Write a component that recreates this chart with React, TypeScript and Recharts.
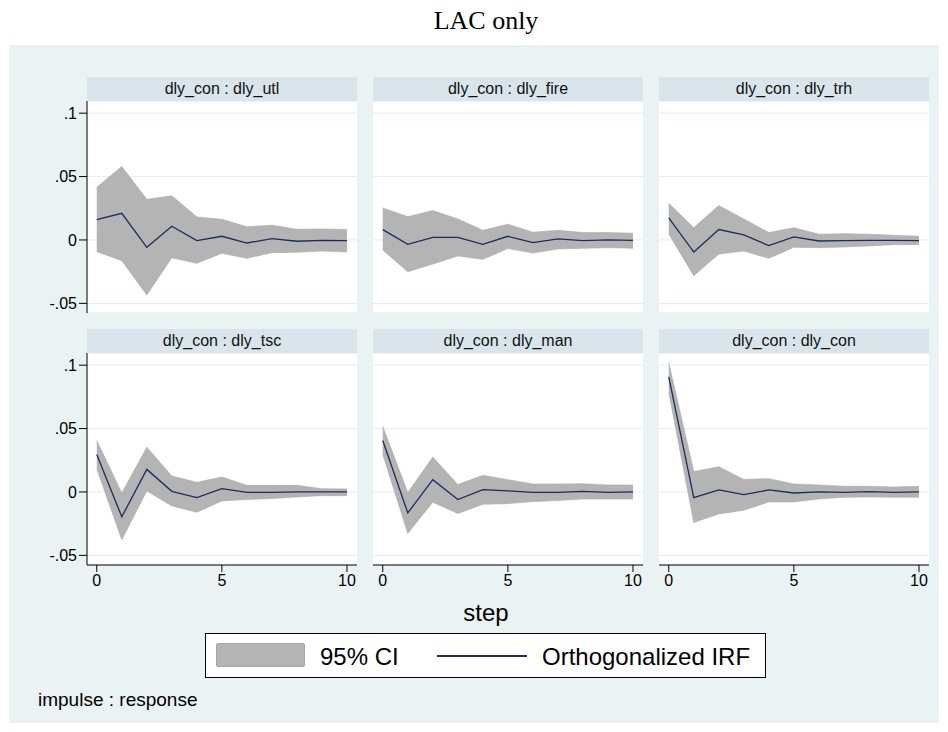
import React from "react";
import { ComposedChart, Area, Line, XAxis, YAxis, CartesianGrid } from "recharts";

// ---------- data ----------
const steps = [0, 1, 2, 3, 4, 5, 6, 7, 8, 9, 10];

const utlIrf = [0.016, 0.021, -0.0058, 0.0108, -0.0005, 0.0029, -0.0024, 0.001, -0.001, -0.0003, -0.0005];
const utlLo = [-0.0092, -0.0163, -0.0434, -0.014, -0.0184, -0.0105, -0.0145, -0.01, -0.0097, -0.0087, -0.0095];
const utlHi = [0.0416, 0.0579, 0.0321, 0.0348, 0.0182, 0.0163, 0.0105, 0.0116, 0.0084, 0.0087, 0.0082];

const fireIrf = [0.0082, -0.0034, 0.0021, 0.0021, -0.0034, 0.0029, -0.0021, 0.0008, -0.0005, 0.0, -0.0003];
const fireLo = [-0.0079, -0.025, -0.019, -0.0126, -0.0153, -0.0068, -0.0103, -0.0071, -0.0066, -0.0061, -0.0066];
const fireHi = [0.0253, 0.0184, 0.0232, 0.0166, 0.0076, 0.0124, 0.0061, 0.0076, 0.0058, 0.0058, 0.0053];

const trhIrf = [0.0174, -0.0095, 0.0082, 0.004, -0.0045, 0.0024, -0.0008, -0.0005, -0.0003, -0.0003, -0.0005];
const trhLo = [0.0047, -0.0282, -0.0111, -0.0087, -0.0145, -0.0058, -0.0061, -0.0055, -0.0047, -0.0037, -0.0037];
const trhHi = [0.029, 0.0097, 0.0271, 0.0166, 0.0058, 0.0097, 0.0045, 0.005, 0.0045, 0.0037, 0.0029];

const tscIrf = [0.0296, -0.0196, 0.0178, 0.0005, -0.0045, 0.0026, -0.0003, -0.0003, 0.0, 0.0, 0.0];
const tscLo = [0.0183, -0.0377, 0.0008, -0.011, -0.016, -0.0071, -0.006, -0.0052, -0.0039, -0.0029, -0.0029];
const tscHi = [0.0406, -0.0008, 0.0353, 0.0126, 0.0076, 0.0118, 0.0052, 0.0052, 0.0052, 0.0026, 0.0024];

const manIrf = [0.0406, -0.0165, 0.0097, -0.006, 0.0018, 0.0008, -0.0003, -0.0003, 0.0005, -0.0003, 0.0];
const manLo = [0.0296, -0.0327, -0.0081, -0.017, -0.0097, -0.0092, -0.0076, -0.0068, -0.0055, -0.0055, -0.0055];
const manHi = [0.0518, -0.0005, 0.0275, 0.0058, 0.0131, 0.0097, 0.0063, 0.0063, 0.0065, 0.0055, 0.0055];

const conIrf = [0.0908, -0.0045, 0.0016, -0.0021, 0.0016, -0.0008, 0.0, -0.0003, 0.0003, -0.0003, 0.0];
const conLo = [0.0785, -0.0241, -0.0173, -0.0144, -0.0079, -0.0079, -0.0055, -0.0042, -0.0039, -0.0042, -0.0042];
const conHi = [0.1021, 0.0162, 0.0199, 0.0099, 0.0105, 0.0063, 0.0055, 0.0045, 0.0045, 0.0039, 0.0045];

const panelTitles = [
  "dly_con : dly_utl",
  "dly_con : dly_fire",
  "dly_con : dly_trh",
  "dly_con : dly_tsc",
  "dly_con : dly_man",
  "dly_con : dly_con",
];

const yTicks = [-0.05, 0, 0.05, 0.1];
const yTickLabels: Record<string, string> = { "-0.05": "-.05", "0": "0", "0.05": ".05", "0.1": ".1" };
const xTicks = [0, 5, 10];

const chartTitle = "LAC only";
const xAxisTitle = "step";
const noteText = "impulse : response";
const legendCI = "95% CI";
const legendIRF = "Orthogonalized IRF";

// ---------- styles ----------
const FONT = "'Liberation Sans', Arial, sans-serif";
const BG = "#EAF2F3";
const HEADER = "#D9E5EA";
const GRID = "#E4ECEF";
const BAND = "#B4B4B4";
const LINE = "#1B2D5E";

const series = [
  { irf: utlIrf, lo: utlLo, hi: utlHi },
  { irf: fireIrf, lo: fireLo, hi: fireHi },
  { irf: trhIrf, lo: trhLo, hi: trhHi },
  { irf: tscIrf, lo: tscLo, hi: tscHi },
  { irf: manIrf, lo: manLo, hi: manHi },
  { irf: conIrf, lo: conLo, hi: conHi },
];

const colLeft = [87, 373, 659];
const rowTop = [101, 353];
const PW = 270;
const PH = 212;
const HH = 24;
const YAW = 50;
const XAH = 32;

function Panel({ idx }: { idx: number }) {
  const col = idx % 3;
  const row = Math.floor(idx / 3);
  const s = series[idx];
  const data = steps.map((st, i) => ({ step: st, irf: s.irf[i], ci: [s.lo[i], s.hi[i]] }));
  const showY = col === 0;
  const showX = row === 1;
  const left = colLeft[col] - (showY ? YAW : 0);
  const top = rowTop[row];
  const w = PW + (showY ? YAW : 0);
  const h = PH + (showX ? XAH : 0);
  return (
    <>
      <div
        style={{
          position: "absolute",
          left: colLeft[col],
          top: top - HH,
          width: PW,
          height: HH,
          background: HEADER,
          fontFamily: FONT,
          fontSize: 16,
          lineHeight: HH + "px",
          textAlign: "center",
          color: "#111",
        }}
      >
        {panelTitles[idx]}
      </div>
      <div style={{ position: "absolute", left: colLeft[col], top, width: PW, height: PH, background: "#fff" }} />
      <div style={{ position: "absolute", left, top }}>
        <ComposedChart width={w} height={h} data={data} margin={{ top: 0, right: 0, bottom: 0, left: 0 }}>
          <CartesianGrid vertical={false} stroke={GRID} strokeWidth={1} />
          <XAxis
            type="number"
            dataKey="step"
            domain={[-0.39, 10.4]}
            allowDataOverflow
            ticks={xTicks}
            hide={!showX}
            height={XAH}
            axisLine={{ stroke: "#000", strokeWidth: 1 }}
            tickLine={{ stroke: "#000", strokeWidth: 1 }}
            tickSize={7}
            tickMargin={3}
            tick={{ fill: "#000", fontSize: 16, fontFamily: FONT }}
          />
          <YAxis
            type="number"
            domain={[-0.0576, 0.1096]}
            allowDataOverflow
            ticks={yTicks}
            hide={!showY}
            width={YAW}
            axisLine={{ stroke: "#000", strokeWidth: 1 }}
            tickLine={{ stroke: "#000", strokeWidth: 1 }}
            tickSize={8}
            tickMargin={2}
            tickFormatter={(v: number) => yTickLabels[String(v)] ?? String(v)}
            tick={{ fill: "#000", fontSize: 16, fontFamily: FONT }}
          />
          <Area
            type="linear"
            dataKey="ci"
            fill={BAND}
            fillOpacity={1}
            stroke="#A9A9A9"
            strokeWidth={0.6}
            isAnimationActive={false}
          />
          <Line
            type="linear"
            dataKey="irf"
            stroke={LINE}
            strokeWidth={1.3}
            dot={false}
            activeDot={false}
            isAnimationActive={false}
          />
        </ComposedChart>
      </div>
    </>
  );
}

export default function App() {
  return (
    <div style={{ position: "absolute", left: 0, top: 0, width: 948, height: 732, background: "#fff", overflow: "hidden" }}>
      <div
        style={{
          position: "absolute",
          left: 386,
          top: 8,
          width: 200,
          textAlign: "center",
          fontFamily: "'Liberation Serif', 'Times New Roman', serif",
          fontSize: 26,
          lineHeight: "26px",
          color: "#000",
        }}
      >
        {chartTitle}
      </div>
      <div style={{ position: "absolute", left: 9, top: 45, width: 930, height: 678, background: BG }} />
      {[0, 1, 2, 3, 4, 5].map((i) => (
        <Panel key={i} idx={i} />
      ))}
      <div
        style={{
          position: "absolute",
          left: 386,
          top: 601,
          width: 200,
          textAlign: "center",
          fontFamily: FONT,
          fontSize: 24,
          lineHeight: "24px",
          color: "#000",
        }}
      >
        {xAxisTitle}
      </div>
      <div
        style={{
          position: "absolute",
          left: 205,
          top: 633,
          width: 559,
          height: 43,
          background: "#fff",
          border: "1px solid #000",
        }}
      >
        <div
          style={{
            position: "absolute",
            left: 10,
            top: 9,
            width: 89,
            height: 24,
            background: BAND,
            border: "1px solid #A6A6A6",
            borderRadius: 2,
            boxSizing: "border-box",
          }}
        />
        <div
          style={{
            position: "absolute",
            left: 114,
            top: 11,
            fontFamily: FONT,
            fontSize: 24,
            lineHeight: "24px",
            color: "#000",
            whiteSpace: "nowrap",
          }}
        >
          {legendCI}
        </div>
        <div style={{ position: "absolute", left: 231, top: 21, width: 90, height: 2, background: LINE }} />
        <div
          style={{
            position: "absolute",
            left: 336,
            top: 11,
            fontFamily: FONT,
            fontSize: 24,
            lineHeight: "24px",
            color: "#000",
            whiteSpace: "nowrap",
          }}
        >
          {legendIRF}
        </div>
      </div>
      <div
        style={{
          position: "absolute",
          left: 38,
          top: 690,
          fontFamily: FONT,
          fontSize: 19,
          lineHeight: "19px",
          color: "#000",
          whiteSpace: "nowrap",
        }}
      >
        {noteText}
      </div>
    </div>
  );
}
